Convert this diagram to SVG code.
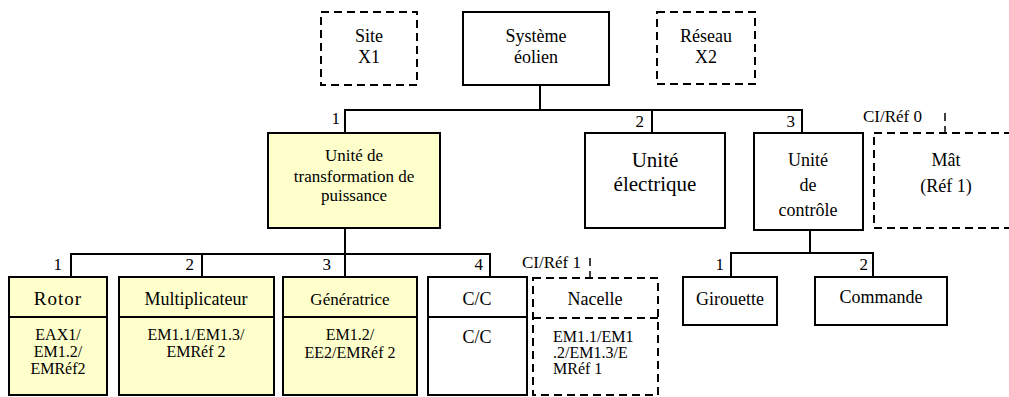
<svg xmlns="http://www.w3.org/2000/svg" width="1009" height="397" viewBox="0 0 1009 397">
<style>
text{font-family:'Liberation Serif','DejaVu Serif',serif;fill:#000;text-anchor:middle}
.box{fill:#fff;stroke:#000;stroke-width:2}
.ybox{fill:#ffffcc;stroke:#000;stroke-width:2}
.dash{fill:#fff;stroke:#000;stroke-width:2;stroke-dasharray:8 5}
.dl{fill:none;stroke:#000;stroke-width:1.5;stroke-dasharray:8 5}
.ln{fill:none;stroke:#000;stroke-width:2}
.t18{font-size:18px}
.t17{font-size:17px}
.t16{font-size:16px}
.t21{font-size:21px}
.num{font-size:17px;text-anchor:end}
.lft{text-anchor:start}
</style>
<g id="connectors">
<polyline class="ln" points="540,85 540,110"/>
<polyline class="ln" points="345,133 345,110 802,110 802,133"/>
<polyline class="ln" points="652,110 652,133"/>
<polyline class="ln" points="345,228 345,254"/>
<polyline class="ln" points="71,277 71,254 490,254 490,277"/>
<polyline class="ln" points="202,254 202,277"/>
<polyline class="ln" points="345,254 345,277"/>
<polyline class="ln" points="810,230 810,253"/>
<polyline class="ln" points="731,277 731,253 873,253 873,277"/>
<line class="dl" x1="945" y1="113" x2="945" y2="133"/>
<line class="dl" x1="590" y1="258" x2="590" y2="278"/>
</g>
<g id="labels">
<text class="num" x="340" y="124">1</text>
<text class="num" x="644" y="127">2</text>
<text class="num" x="795" y="127">3</text>
<text class="num" x="62" y="270">1</text>
<text class="num" x="194" y="270">2</text>
<text class="num" x="331" y="270">3</text>
<text class="num" x="483" y="270">4</text>
<text class="num" x="724" y="270">1</text>
<text class="num" x="868" y="270">2</text>
<text class="t17 lft" x="863" y="122">CI/Réf 0</text>
<text class="t17 lft" x="522" y="268">CI/Réf 1</text>
</g>
<g id="site">
<rect class="dash" x="321" y="12" width="96" height="73"/>
<text class="t18" x="369" y="42">Site</text>
<text class="t18" x="369" y="63">X1</text>
</g>
<g id="systeme">
<rect class="box" x="463" y="12" width="146" height="73"/>
<text class="t18" x="536" y="42">Système</text>
<text class="t18" x="536" y="63">éolien</text>
</g>
<g id="reseau">
<rect class="dash" x="657" y="12" width="98" height="72"/>
<text class="t18" x="706" y="42">Réseau</text>
<text class="t18" x="706" y="63">X2</text>
</g>
<g id="transformation">
<rect class="ybox" x="268" y="133" width="172" height="95"/>
<text class="t17" x="354" y="161">Unité de</text>
<text class="t17" x="354" y="182">transformation de</text>
<text class="t17" x="354" y="201">puissance</text>
</g>
<g id="electrique">
<rect class="box" x="585" y="133" width="140" height="95"/>
<text class="t21" x="655" y="167">Unité</text>
<text class="t21" x="655" y="191">électrique</text>
</g>
<g id="controle">
<rect class="box" x="754" y="133" width="109" height="97"/>
<text class="t18" x="808" y="166">Unité</text>
<text class="t18" x="808" y="191">de</text>
<text class="t18" x="808" y="216">contrôle</text>
</g>
<g id="mat">
<rect class="dash" x="874" y="133" width="145" height="95"/>
<text class="t18" x="946" y="166">Mât</text>
<text class="t18" x="946" y="192">(Réf 1)</text>
</g>
<g id="rotor">
<rect class="ybox" x="9" y="277" width="98" height="118"/>
<line class="ln" x1="9" y1="317" x2="107" y2="317"/>
<text x="58" y="305" style="font-size:19px;letter-spacing:1px">Rotor</text>
<text class="t16" x="58" y="340">EAX1/</text>
<text class="t16" x="58" y="357">EM1.2/</text>
<text class="t16" x="58" y="374">EMRéf2</text>
</g>
<g id="multiplicateur">
<rect class="ybox" x="119" y="277" width="155" height="118"/>
<line class="ln" x1="119" y1="317" x2="274" y2="317"/>
<text class="t18" x="196" y="305">Multiplicateur</text>
<text class="t16" x="196" y="340">EM1.1/EM1.3/</text>
<text class="t16" x="196" y="357">EMRéf 2</text>
</g>
<g id="generatrice">
<rect class="ybox" x="283" y="277" width="134" height="118"/>
<line class="ln" x1="283" y1="317" x2="417" y2="317"/>
<text class="t17" x="350" y="305">Génératrice</text>
<text class="t16" x="350" y="340">EM1.2/</text>
<text class="t16" x="350" y="358">EE2/EMRéf 2</text>
</g>
<g id="cc">
<rect class="box" x="428" y="277" width="99" height="118"/>
<line class="ln" x1="428" y1="317" x2="527" y2="317"/>
<text class="t18" x="477" y="305">C/C</text>
<text class="t18" x="477" y="343">C/C</text>
</g>
<g id="nacelle">
<rect class="dash" x="533" y="278" width="125" height="117"/>
<line class="dl" x1="533" y1="318" x2="658" y2="318" style="stroke-width:2"/>
<text class="t18" x="595" y="305">Nacelle</text>
<text class="t16 lft" x="553" y="342">EM1.1/EM1</text>
<text class="t16 lft" x="553" y="358">.2/EM1.3/E</text>
<text class="t16 lft" x="553" y="374">MRéf 1</text>
</g>
<g id="girouette">
<rect class="box" x="683" y="277" width="94" height="48"/>
<text class="t18" x="730" y="305">Girouette</text>
</g>
<g id="commande">
<rect class="box" x="815" y="277" width="132" height="48"/>
<text class="t18" x="881" y="303">Commande</text>
</g>
</svg>
